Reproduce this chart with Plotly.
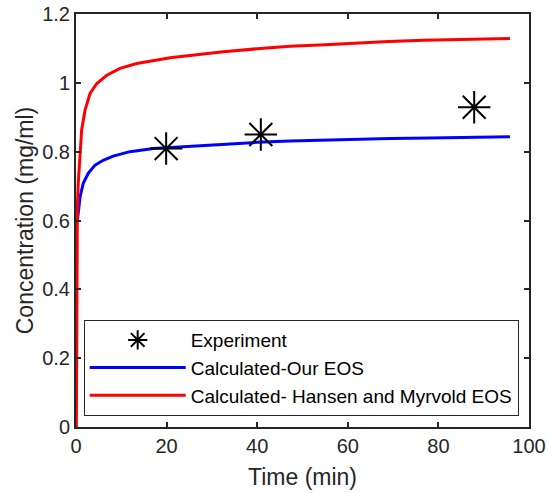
import plotly.graph_objects as go

# Experimental data
exp_time = [19.9, 40.8, 87.9]
exp_conc = [0.809, 0.850, 0.929]

# Calculated - Our EOS
our_time = [0.3, 0.9, 1.6, 2.7, 4.2, 6.0, 8.2, 11.9, 17.1, 25.2, 32.0, 40.0, 47.2, 55.0, 62.0, 69.3, 78.0, 87.0, 95.8]
our_conc = [0.600, 0.669, 0.708, 0.737, 0.761, 0.775, 0.787, 0.800, 0.809, 0.816, 0.822, 0.827, 0.831, 0.834, 0.836, 0.838, 0.840, 0.842, 0.843]

# Calculated - Hansen and Myrvold EOS
hm_time = [0.08, 0.15, 0.3, 0.5, 0.74, 1.25, 2.0, 3.1, 4.6, 6.8, 9.7, 13.4, 20.8, 25.2, 32.5, 40.0, 47.2, 55.0, 62.0, 69.0, 76.7, 86.0, 95.8]
hm_conc = [0.000, 0.480, 0.640, 0.710, 0.766, 0.863, 0.921, 0.969, 0.998, 1.022, 1.042, 1.056, 1.073, 1.080, 1.090, 1.099, 1.106, 1.111, 1.116, 1.120, 1.124, 1.127, 1.129]

x_ticks = [0, 20, 40, 60, 80, 100]
y_ticks = [0, 0.2, 0.4, 0.6, 0.8, 1.0, 1.2]

AX = "#262626"
FONT = "Liberation Sans, Arial, Helvetica, sans-serif"

fig = go.Figure()
fig.add_trace(go.Scatter(
    x=our_time, y=our_conc, mode="lines", name="Calculated-Our EOS",
    line=dict(color="#0000FF", width=3), legendrank=2))
fig.add_trace(go.Scatter(
    x=hm_time, y=hm_conc, mode="lines", name="Calculated- Hansen and Myrvold EOS",
    line=dict(color="#FF0000", width=3), legendrank=3))
fig.add_trace(go.Scatter(
    x=exp_time, y=exp_conc, mode="markers", name="Experiment",
    marker=dict(symbol="asterisk-open", size=27, color="black",
                line=dict(color="black", width=2)), legendrank=1))

fig.update_layout(
    width=548, height=493,
    margin=dict(l=76, r=19, t=14, b=66, autoexpand=False),
    paper_bgcolor="white", plot_bgcolor="white",
    font=dict(family=FONT, color=AX, size=20),
    showlegend=True,
    legend=dict(
        x=0.017, y=0.259, xanchor="left", yanchor="top",
        bordercolor=AX, borderwidth=1, bgcolor="white",
        font=dict(size=19, color="black"),
        itemwidth=96, itemsizing="trace",
    ),
)
fig.update_xaxes(
    range=[0, 100], tickvals=x_ticks, ticks="inside", ticklen=5, tickwidth=1.5,
    tickcolor=AX, showline=True, linecolor=AX, linewidth=2, mirror="ticks",
    showgrid=False, zeroline=False, tickfont=dict(size=20, color=AX), automargin=False,
    title=dict(text="Time (min)", font=dict(size=23, color=AX), standoff=13),
)
fig.update_yaxes(
    range=[0, 1.2], tickvals=y_ticks, ticks="inside", ticklen=5, tickwidth=1.5,
    tickcolor=AX, showline=True, linecolor=AX, linewidth=2, mirror="ticks",
    showgrid=False, zeroline=False, tickfont=dict(size=20, color=AX), automargin=False,
    title=dict(text="Concentration (mg/ml)", font=dict(size=23, color=AX), standoff=2),
)

fig.write_html("out.html")
